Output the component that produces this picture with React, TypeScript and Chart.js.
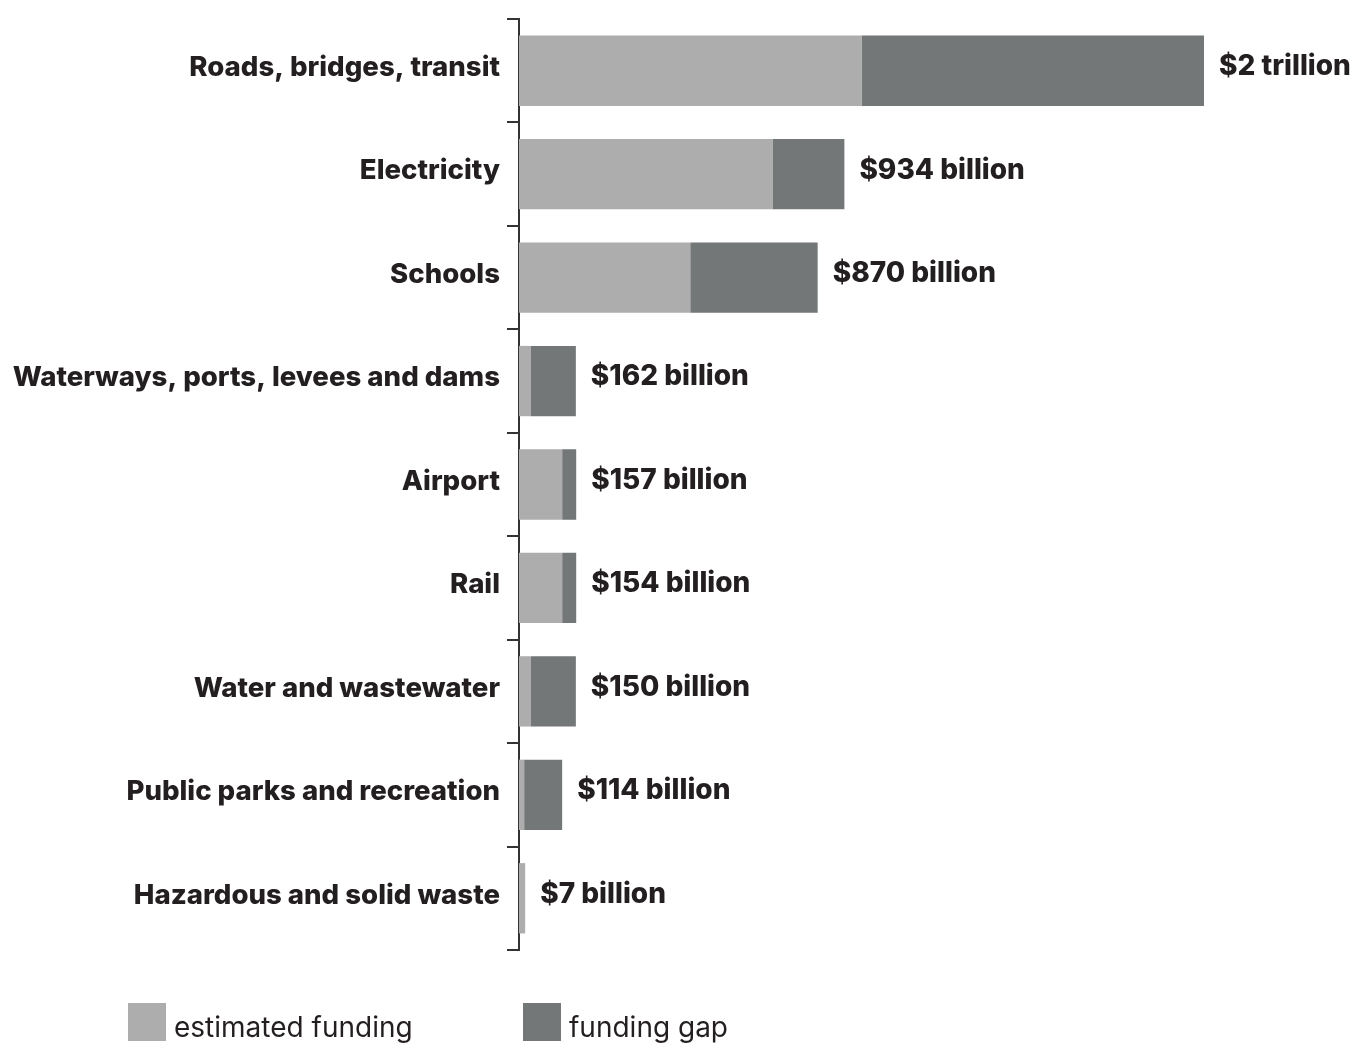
import React, { useEffect, useRef } from "react";
import { Chart, registerables } from "chart.js";

Chart.register(...registerables);

const categories = [
  "Roads, bridges, transit",
  "Electricity",
  "Schools",
  "Waterways, ports, levees and dams",
  "Airport",
  "Rail",
  "Water and wastewater",
  "Public parks and recreation",
  "Hazardous and solid waste",
];

// billions of dollars
const estimatedFunding = [1000, 740, 500, 35, 126, 126, 35, 15, 18];
const fundingGap = [1000, 210, 372, 131, 41, 41, 131, 111, 0];

const totalLabels = [
  "$2 trillion",
  "$934 billion",
  "$870 billion",
  "$162 billion",
  "$157 billion",
  "$154 billion",
  "$150 billion",
  "$114 billion",
  "$7 billion",
];

const seriesNames = ["estimated funding", "funding gap"];
const LIGHT = "#adadad";
const DARK = "#737777";
const TEXT = "#231f20";
const FONT = "Inter";

const valueLabelPlugin = {
  id: "valueLabels",
  afterDatasetsDraw(chart: any) {
    const ctx = chart.ctx;
    const m0 = chart.getDatasetMeta(0);
    const m1 = chart.getDatasetMeta(1);
    ctx.save();
    ctx.font = `800 28px ${FONT}`;
    ctx.fillStyle = TEXT;
    ctx.textAlign = "left";
    ctx.textBaseline = "middle";
    totalLabels.forEach((lab, i) => {
      const a = m0.data[i];
      const b = m1.data[i];
      const x = Math.max(a.x, b.x);
      ctx.fillText(lab, x + 15, a.y - 4);
    });
    ctx.restore();
  },
};

const legendPlugin = {
  id: "customLegend",
  afterDraw(chart: any) {
    const ctx = chart.ctx;
    ctx.save();
    const items = [
      { x: 128, color: LIGHT, label: seriesNames[0] },
      { x: 523, color: DARK, label: seriesNames[1] },
    ];
    ctx.font = `400 28px ${FONT}`;
    ctx.textBaseline = "alphabetic";
    ctx.textAlign = "left";
    items.forEach((it) => {
      ctx.fillStyle = it.color;
      ctx.fillRect(it.x, 1003, 38, 38);
      ctx.fillStyle = TEXT;
      ctx.fillText(it.label, it.x + 46, 1037);
    });
    ctx.restore();
  },
};

export default function App() {
  const ref = useRef<HTMLCanvasElement>(null);
  useEffect(() => {
    const chart = new Chart(ref.current as HTMLCanvasElement, {
      type: "bar",
      data: {
        labels: categories,
        datasets: [
          {
            label: seriesNames[0],
            data: estimatedFunding,
            backgroundColor: LIGHT,
            borderWidth: 0,
            barPercentage: 0.68,
            categoryPercentage: 1,
          },
          {
            label: seriesNames[1],
            data: fundingGap,
            backgroundColor: DARK,
            borderWidth: 0,
            barPercentage: 0.68,
            categoryPercentage: 1,
          },
        ],
      },
      options: {
        indexAxis: "y",
        responsive: false,
        animation: false,
        devicePixelRatio: 1,
        layout: { padding: { top: 19, bottom: 93, right: 154, left: 0 } },
        plugins: {
          legend: { display: false },
          tooltip: { enabled: false },
        },
        scales: {
          x: {
            stacked: true,
            display: false,
            min: 0,
            max: 2000,
          },
          y: {
            stacked: true,
            afterFit: (scale: any) => {
              scale.width = 519;
              scale.paddingTop = 0;
              scale.paddingBottom = 0;
            },
            border: { display: true, color: "#333333", width: 2 },
            grid: {
              display: true,
              drawOnChartArea: false,
              drawTicks: true,
              tickLength: 12,
              color: "#333333",
              lineWidth: 2,
              offset: true,
            },
            ticks: {
              autoSkip: false,
              padding: 7,
              labelOffset: -3,
              color: TEXT,
              font: { family: FONT, weight: "800", size: 27.6 },
            },
          },
        },
      },
      plugins: [valueLabelPlugin, legendPlugin],
    } as any);
    return () => chart.destroy();
  }, []);
  return (
    <div
      style={{
        position: "fixed",
        left: 0,
        top: 0,
        width: 1358,
        height: 1043,
        overflow: "hidden",
        background: "#ffffff",
      }}
    >
      <canvas
        ref={ref}
        width={1358}
        height={1043}
        style={{ display: "block", width: 1358, height: 1043 }}
      />
    </div>
  );
}
